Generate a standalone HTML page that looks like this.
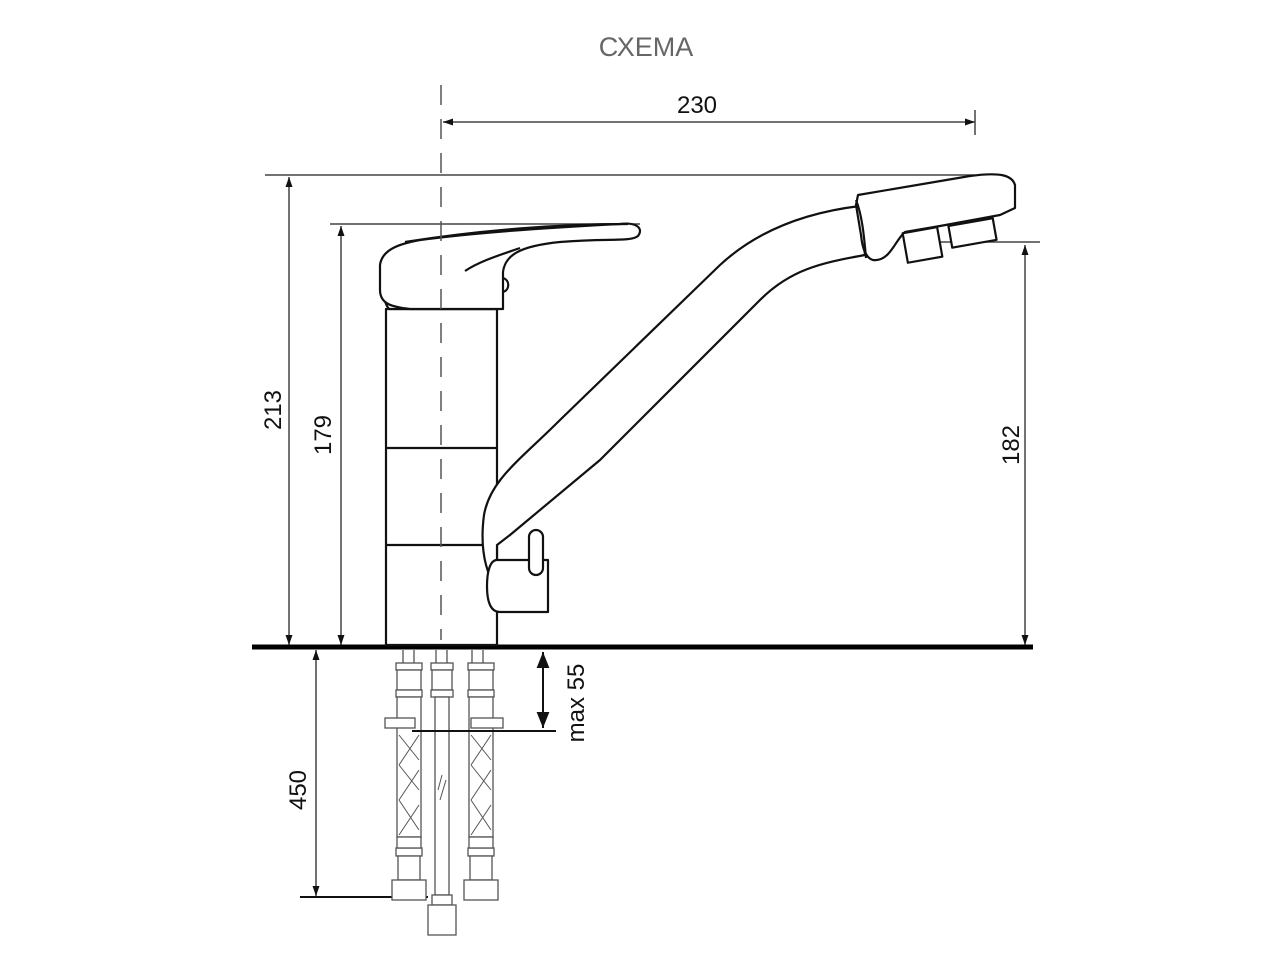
<!DOCTYPE html>
<html><head><meta charset="utf-8"><style>
html,body{margin:0;padding:0;background:#fff;}
svg{display:block;}
text{font-family:"Liberation Sans",sans-serif;fill:#111;}
</style></head><body>
<svg width="1280" height="960" viewBox="0 0 1280 960" xmlns="http://www.w3.org/2000/svg">
<defs>
<marker id="a" viewBox="0 0 10 10" refX="10" refY="5" markerWidth="10" markerHeight="10" orient="auto-start-reverse" markerUnits="userSpaceOnUse"><path d="M0,1.5 L10,5 L0,8.5 z" fill="#111"/></marker>
<marker id="b" viewBox="0 0 10 10" refX="10" refY="5" markerWidth="16" markerHeight="16" orient="auto-start-reverse" markerUnits="userSpaceOnUse"><path d="M0,1 L10,5 L0,9 z" fill="#111"/></marker>
</defs>
<text x="646" y="56" font-size="27" text-anchor="middle" style="fill:#666">СХЕМА</text>

<g stroke="#444" stroke-width="1.5" fill="none">
<line x1="443" y1="122" x2="975" y2="122" marker-start="url(#a)" marker-end="url(#a)"/>
<line x1="975" y1="110" x2="975" y2="135"/>
<line x1="265" y1="175" x2="975" y2="175"/>
<line x1="330" y1="224" x2="640" y2="224"/>
<line x1="930" y1="242" x2="1040" y2="242"/>
<line x1="289" y1="177" x2="289" y2="645" marker-start="url(#a)" marker-end="url(#a)"/>
<line x1="341" y1="226" x2="341" y2="645" marker-start="url(#a)" marker-end="url(#a)"/>
<line x1="1025" y1="245" x2="1025" y2="645" marker-start="url(#a)" marker-end="url(#a)"/>
<line x1="316" y1="650" x2="316" y2="896" marker-start="url(#a)" marker-end="url(#a)"/>
<line x1="300" y1="897" x2="428" y2="897" stroke="#111" stroke-width="2"/>
</g>
<line x1="543" y1="652" x2="543" y2="728" stroke="#111" stroke-width="2" marker-start="url(#b)" marker-end="url(#b)"/>
<line x1="412" y1="731" x2="556" y2="731" stroke="#111" stroke-width="2"/>

<text x="697" y="113" font-size="24" text-anchor="middle">230</text>
<text transform="translate(281,410) rotate(-90)" font-size="24" text-anchor="middle">213</text>
<text transform="translate(331,435) rotate(-90)" font-size="24" text-anchor="middle">179</text>
<text transform="translate(1019,445) rotate(-90)" font-size="24" text-anchor="middle">182</text>
<text transform="translate(306,790) rotate(-90)" font-size="24" text-anchor="middle">450</text>
<text transform="translate(584,703) rotate(-90)" font-size="24" text-anchor="middle">max 55</text>

<line x1="252" y1="647" x2="1033" y2="647" stroke="#000" stroke-width="5"/>

<g stroke="#111" stroke-width="2.2" fill="#fff" stroke-linejoin="round">
<rect x="386" y="309" width="111" height="336"/>
<line x1="386" y1="448" x2="497" y2="448"/>
<line x1="386" y1="545" x2="497" y2="545"/>
<path d="M389,309 C382,300 385,293 393,290 L488,290 C497,294 499,302 494,309 Z"/>
<path d="M380,290 L380,265 C382,250 398,244 420,240 C480,232 560,227 620,224 C636,222 644,228 638,236 C630,242 610,238 560,242 C520,246 505,255 503,272 L503,309 L410,309 C392,307 380,304 380,290 Z"/>
<path d="M405,242 C480,230 560,224 628,224" fill="none"/>
<path d="M465,271 C480,261 500,255 520,248" fill="none"/>
<path d="M503,278 C510,280 510,290 503,292" fill="none"/>
<path d="M497,590 C484,570 480,545 484,515 C490,480 520,460 560,420 L720,265 C760,228 810,212 860,206 L865,255 C820,263 790,270 760,300 L600,460 L510,535 L497,545 Z"/>
<path d="M858,195 L970,176 C1000,172 1012,175 1015,185 L1015,208 L1000,215 L940,226 L905,232 C895,240 890,262 873,260 C865,258 862,245 861,235 L856,205 Z"/>
<path d="M856,200 C862,215 864,235 866,258" fill="none"/>
<rect x="905" y="230" width="35" height="30" transform="rotate(-10 922 245)"/>
<rect x="950" y="222" width="45" height="22" transform="rotate(-10 972 233)"/>
<path d="M497,560 L548,560 L548,612 L500,612 C490,612 487,600 487,586 C487,572 490,560 497,560 Z"/>
<rect x="529" y="530" width="14" height="45" rx="7"/>
</g>
<line x1="441" y1="85" x2="441" y2="640" stroke="#555" stroke-width="1.5" stroke-dasharray="20,14"/>

<g stroke="#555" stroke-width="1.3" fill="#fff">
<line x1="403" y1="650" x2="403" y2="665"/><line x1="414" y1="650" x2="414" y2="665"/>
<line x1="436" y1="650" x2="436" y2="665"/><line x1="447" y1="650" x2="447" y2="665"/>
<line x1="472" y1="650" x2="472" y2="665"/><line x1="483" y1="650" x2="483" y2="665"/>
<rect x="396" y="663" width="26" height="7"/><rect x="397" y="670" width="24" height="20"/><rect x="396" y="690" width="26" height="7"/>
<rect x="397" y="697" width="24" height="140"/>
<rect x="385" y="718" width="30" height="10"/>
<rect x="396" y="848" width="26" height="8"/><rect x="397" y="837" width="24" height="11"/>
<rect x="398" y="856" width="22" height="24"/>
<rect x="392" y="880" width="34" height="20"/>
<rect x="431" y="663" width="22" height="7"/><rect x="432" y="670" width="20" height="20"/><rect x="431" y="690" width="22" height="7"/>
<rect x="435" y="697" width="14" height="198"/>
<rect x="432" y="895" width="20" height="10"/>
<rect x="428" y="905" width="28" height="30"/>
<rect x="468" y="663" width="26" height="7"/><rect x="469" y="670" width="24" height="20"/><rect x="468" y="690" width="26" height="7"/>
<rect x="469" y="697" width="24" height="140"/>
<rect x="471" y="718" width="32" height="10"/>
<rect x="468" y="848" width="26" height="8"/><rect x="469" y="837" width="24" height="11"/>
<rect x="470" y="856" width="22" height="24"/>
<rect x="464" y="880" width="34" height="20"/>
</g>
<g stroke="#555" stroke-width="1" fill="none">
<path d="M399,735 L419,760 M419,735 L399,765 M399,765 L419,790 M419,770 L399,800 M399,800 L419,830 M419,805 L399,835"/>
<path d="M471,735 L491,760 M491,735 L471,765 M471,765 L491,790 M491,770 L471,800 M471,800 L491,830 M491,805 L471,835"/>
<path d="M442,775 L438,790 M446,780 L440,800"/>
</g>
<line x1="412" y1="731" x2="556" y2="731" stroke="#111" stroke-width="2"/>
</svg>
</body></html>
